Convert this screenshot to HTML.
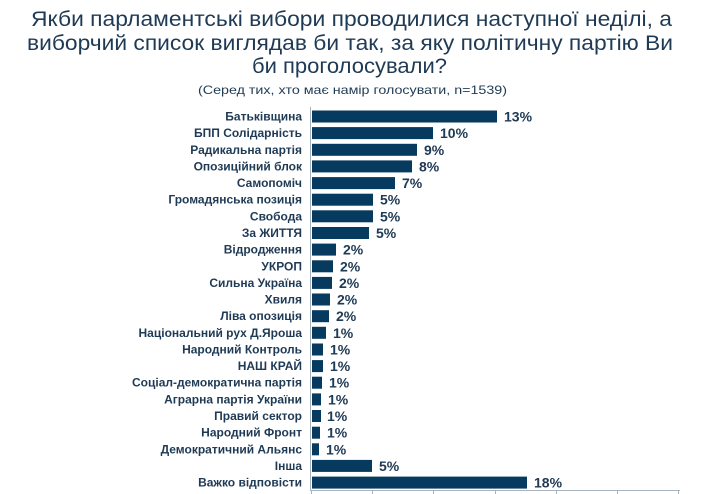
<!DOCTYPE html>
<html><head><meta charset="utf-8"><style>
html,body{margin:0;padding:0;background:#fff;}
svg{display:block;}
.l{font-size:12px;font-weight:bold;fill:#1f3a55;text-anchor:end;}
.v{font-size:14px;font-weight:bold;fill:#1f3a55;}
rect{fill:#063a5e;}
</style></head><body>
<svg width="718" height="494" xmlns="http://www.w3.org/2000/svg" font-family="'Liberation Sans', 'DejaVu Sans', sans-serif">
<g fill="#1f3a55" font-size="21">
<text x="31" y="26" textLength="641" lengthAdjust="spacingAndGlyphs">Якби парламентські вибори проводилися наступної неділі, а</text>
<text x="27" y="50" textLength="646" lengthAdjust="spacingAndGlyphs">виборчий список виглядав би так, за яку політичну партію Ви</text>
<text x="252" y="73" textLength="195" lengthAdjust="spacingAndGlyphs">би проголосували?</text>
</g>
<text x="198" y="94" font-size="12" fill="#1f3a55" textLength="309" lengthAdjust="spacingAndGlyphs">(Серед тих, хто має намір голосувати, n=1539)</text>
<line x1="310.5" y1="107" x2="310.5" y2="491" stroke="#aab4c0"/>
<line x1="310" y1="490.5" x2="680" y2="490.5" stroke="#aab4c0"/>
<g stroke="#aab4c0">
<line x1="311.5" y1="490" x2="311.5" y2="494"/><line x1="372.5" y1="490" x2="372.5" y2="494"/>
<line x1="433.5" y1="490" x2="433.5" y2="494"/><line x1="495.5" y1="490" x2="495.5" y2="494"/>
<line x1="556.5" y1="490" x2="556.5" y2="494"/><line x1="617.5" y1="490" x2="617.5" y2="494"/>
<line x1="678.5" y1="490" x2="678.5" y2="494"/>
</g>
<rect x="312" y="110.5" width="185" height="12"/><text class="l" x="302" y="120.5">Батьківщина</text><text class="v" x="504" y="121.5">13%</text>
<rect x="312" y="127.1" width="121" height="12"/><text class="l" x="302" y="137.1">БПП Солідарність</text><text class="v" x="440" y="138.1">10%</text>
<rect x="312" y="143.8" width="105" height="12"/><text class="l" x="302" y="153.8">Радикальна партія</text><text class="v" x="424" y="154.8">9%</text>
<rect x="312" y="160.4" width="100" height="12"/><text class="l" x="302" y="170.4">Опозиційний блок</text><text class="v" x="419" y="171.4">8%</text>
<rect x="312" y="177.1" width="83" height="12"/><text class="l" x="302" y="187.1">Самопоміч</text><text class="v" x="402" y="188.1">7%</text>
<rect x="312" y="193.7" width="61" height="12"/><text class="l" x="302" y="203.7">Громадянська позиція</text><text class="v" x="380" y="204.7">5%</text>
<rect x="312" y="210.3" width="61" height="12"/><text class="l" x="302" y="220.3">Свобода</text><text class="v" x="380" y="221.3">5%</text>
<rect x="312" y="227" width="57" height="12"/><text class="l" x="302" y="237">За ЖИТТЯ</text><text class="v" x="376" y="238">5%</text>
<rect x="312" y="243.6" width="24" height="12"/><text class="l" x="302" y="253.6">Відродження</text><text class="v" x="343" y="254.6">2%</text>
<rect x="312" y="260.3" width="21" height="12"/><text class="l" x="302" y="270.3">УКРОП</text><text class="v" x="340" y="271.3">2%</text>
<rect x="312" y="276.9" width="20" height="12"/><text class="l" x="302" y="286.9">Сильна Україна</text><text class="v" x="339" y="287.9">2%</text>
<rect x="312" y="293.5" width="18" height="12"/><text class="l" x="302" y="303.5">Хвиля</text><text class="v" x="337" y="304.5">2%</text>
<rect x="312" y="310.2" width="17" height="12"/><text class="l" x="302" y="320.2">Ліва опозиція</text><text class="v" x="336" y="321.2">2%</text>
<rect x="312" y="326.8" width="14" height="12"/><text class="l" x="302" y="336.8">Національний рух Д.Яроша</text><text class="v" x="333" y="337.8">1%</text>
<rect x="312" y="343.5" width="11" height="12"/><text class="l" x="302" y="353.5">Народний Контроль</text><text class="v" x="330" y="354.5">1%</text>
<rect x="312" y="360.1" width="11" height="12"/><text class="l" x="302" y="370.1">НАШ КРАЙ</text><text class="v" x="330" y="371.1">1%</text>
<rect x="312" y="376.7" width="10" height="12"/><text class="l" x="302" y="386.7">Соціал-демократична партія</text><text class="v" x="329" y="387.7">1%</text>
<rect x="312" y="393.4" width="9" height="12"/><text class="l" x="302" y="403.4">Аграрна партія України</text><text class="v" x="328" y="404.4">1%</text>
<rect x="312" y="410" width="9" height="12"/><text class="l" x="302" y="420">Правий сектор</text><text class="v" x="327" y="421">1%</text>
<rect x="312" y="426.7" width="8" height="12"/><text class="l" x="302" y="436.7">Народний Фронт</text><text class="v" x="327" y="437.7">1%</text>
<rect x="312" y="443.3" width="7" height="12"/><text class="l" x="302" y="453.3">Демократичний Альянс</text><text class="v" x="326" y="454.3">1%</text>
<rect x="312" y="459.9" width="60" height="12"/><text class="l" x="302" y="469.9">Інша</text><text class="v" x="379" y="470.9">5%</text>
<rect x="312" y="476.6" width="215" height="12"/><text class="l" x="302" y="486.6">Важко відповісти</text><text class="v" x="534" y="487.6">18%</text>
</svg>
</body></html>
